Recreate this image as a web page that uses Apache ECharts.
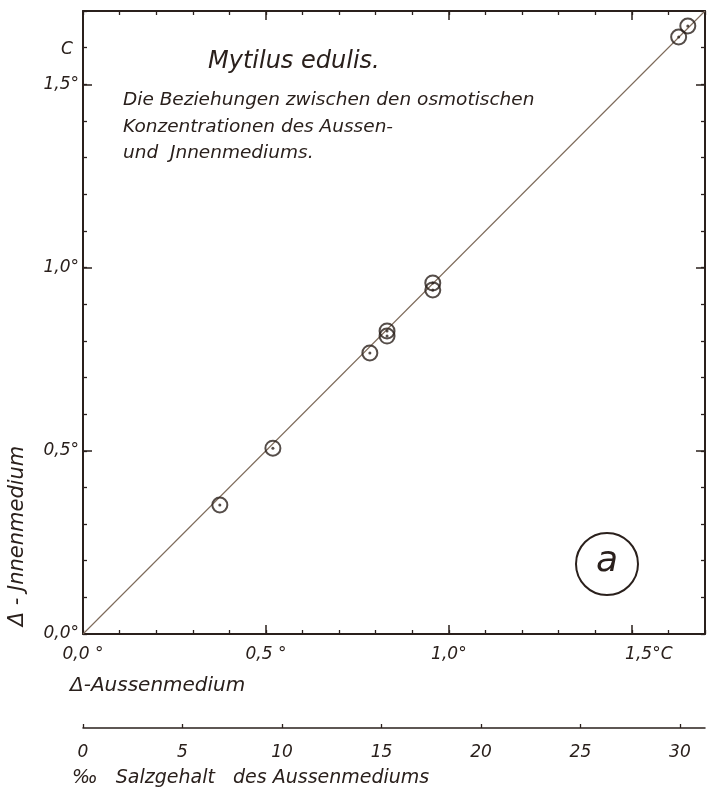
<!DOCTYPE html>
<html>
<head>
<meta charset="utf-8">
<script src="https://cdn.jsdelivr.net/npm/echarts@6/dist/echarts.min.js"></script>
<style>
  html, body { margin: 0; padding: 0; background: #ffffff; }
  #chart { width: 708px; height: 790px; }
</style>
</head>
<body>
<div id="chart"></div>
<script>
// ---- data ----
const aussenDelta = [0.374, 0.519, 0.784, 0.831, 0.831, 0.956, 0.956, 1.628, 1.653];
const innenDelta  = [0.352, 0.507, 0.767, 0.827, 0.813, 0.958, 0.939, 1.629, 1.659];
const lineX = [0, 1.7];
const lineY = [0, 1.7];

const majorTicks = [0, 0.5, 1.0, 1.5];
const xTickLabels = ['0,0 °', '0,5 °', '1,0°', '1,5°C'];
const yTickLabels = ['0,0°', '0,5°', '1,0°', '1,5°'];
const salinityTicks = [0, 5, 10, 15, 20, 25, 30];
const salinityLabels = ['0', '5', '10', '15', '20', '25', '30'];

const titleText = 'Mytilus edulis.';
const subtitleLines = ['Die Beziehungen zwischen den osmotischen', 'Konzentrationen des Aussen-', 'und  Jnnenmediums.'];
const xName = 'Δ-Aussenmedium';
const yName = 'Δ - Jnnenmedium';
const salName = '‰   Salzgehalt   des Aussenmediums';

// ---- styling ----
const INK = '#2a201c';
const FONT = '"DejaVu Sans"';
const AX_MAX = 1.7;
const SAL_MAX = 31.26;

function lookup(vals, labels) {
  return function (v) {
    const i = vals.findIndex(t => Math.abs(t - v) < 1e-6);
    return i >= 0 ? labels[i] : '';
  };
}

function majorAxis(pos, withLabels, fmt) {
  const a = {
    type: 'value', position: pos, min: 0, max: AX_MAX, interval: 0.5,
    axisLine: { show: true, onZero: false, lineStyle: { color: INK, width: 2 } },
    axisTick: { show: true, inside: true, length: 9, lineStyle: { color: INK, width: 1.5 } },
    splitLine: { show: false },
    axisLabel: { show: withLabels }
  };
  if (withLabels) {
    a.axisLabel = {
      show: true, formatter: fmt, color: INK, fontStyle: 'italic', fontFamily: FONT, fontSize: 17,
      margin: (pos === 'bottom') ? 12 : 4,
      rich: { p: { width: 34, fontSize: 17 } }
    };
  }
  return a;
}
function minorAxis(pos) {
  return {
    type: 'value', position: pos, min: 0, max: AX_MAX, interval: 0.1,
    axisLine: { show: false, onZero: false },
    axisTick: { show: true, inside: true, length: 4, lineStyle: { color: INK, width: 1.3 } },
    splitLine: { show: false },
    axisLabel: { show: false }
  };
}

const xFmt = function (v) {
  const i = majorTicks.findIndex(t => Math.abs(t - v) < 1e-6);
  if (i < 0) return '';
  return i === 3 ? '{p|}' + xTickLabels[i] : xTickLabels[i];
};

const chart = echarts.init(document.getElementById('chart'), null, { renderer: 'canvas' });

const option = {
  backgroundColor: '#ffffff',
  animation: false,
  grid: { left: 83, right: 3, top: 11, bottom: 156, containLabel: false, outerBoundsMode: 'none' },
  xAxis: [
    majorAxis('bottom', true, xFmt),
    minorAxis('bottom'),
    majorAxis('top', false),
    minorAxis('top'),
    {
      type: 'value', position: 'bottom', offset: 94, min: 0, max: SAL_MAX, interval: 5,
      axisLine: { show: true, onZero: false, lineStyle: { color: INK, width: 1.5 } },
      axisTick: { show: true, inside: true, length: 4, customValues: salinityTicks, lineStyle: { color: INK, width: 1.3 } },
      splitLine: { show: false },
      axisLabel: {
        show: true, customValues: salinityTicks, formatter: lookup(salinityTicks, salinityLabels),
        color: INK, fontStyle: 'italic', fontFamily: FONT, fontSize: 17, margin: 16
      }
    }
  ],
  yAxis: [
    majorAxis('left', true, lookup(majorTicks, yTickLabels)),
    minorAxis('left'),
    majorAxis('right', false),
    minorAxis('right')
  ],
  series: [
    {
      type: 'line', xAxisIndex: 0, yAxisIndex: 0,
      data: lineX.map((x, i) => [x, lineY[i]]),
      symbol: 'none', lineStyle: { color: '#7d6a5a', width: 1.1 }, z: 1, silent: true
    },
    {
      type: 'scatter', xAxisIndex: 0, yAxisIndex: 0,
      data: aussenDelta.map((x, i) => [x, innenDelta[i]]),
      symbol: 'circle', symbolSize: 15,
      itemStyle: { color: 'rgba(0,0,0,0)', borderColor: INK, borderWidth: 2 }, z: 3
    },
    {
      type: 'scatter', xAxisIndex: 0, yAxisIndex: 0,
      data: aussenDelta.map((x, i) => [x, innenDelta[i]]),
      symbol: 'circle', symbolSize: 3,
      itemStyle: { color: INK }, z: 4
    }
  ],
  graphic: [
    { type: 'text', x: 67, y: 50, style: { text: 'C', font: 'italic 17px ' + FONT, fill: INK, align: 'center', verticalAlign: 'middle' } },
    { type: 'text', x: 208, y: 62, style: { text: titleText, font: 'italic 24px ' + FONT, fill: INK, align: 'left', verticalAlign: 'middle' } },
    { type: 'text', x: 123, y: 100, style: { text: subtitleLines[0], font: 'italic 18.5px ' + FONT, fill: INK, align: 'left', verticalAlign: 'middle' } },
    { type: 'text', x: 123, y: 127, style: { text: subtitleLines[1], font: 'italic 18.5px ' + FONT, fill: INK, align: 'left', verticalAlign: 'middle' } },
    { type: 'text', x: 123, y: 153, style: { text: subtitleLines[2], font: 'italic 18.5px ' + FONT, fill: INK, align: 'left', verticalAlign: 'middle' } },
    { type: 'text', x: 70, y: 686, style: { text: xName, font: 'italic 20px ' + FONT, fill: INK, align: 'left', verticalAlign: 'middle' } },
    { type: 'text', x: 72, y: 778, style: { text: salName, font: 'italic 19px ' + FONT, fill: INK, align: 'left', verticalAlign: 'middle' } },
    { type: 'text', x: 18, y: 536, rotation: Math.PI / 2, style: { text: yName, font: 'italic 21px ' + FONT, fill: INK, align: 'center', verticalAlign: 'middle' } },
    { type: 'circle', shape: { cx: 607, cy: 564, r: 31 }, style: { fill: 'none', stroke: INK, lineWidth: 2 } },
    { type: 'text', x: 607, y: 562, style: { text: 'a', font: 'italic 36px ' + FONT, fill: INK, align: 'center', verticalAlign: 'middle' } }
  ]
};

chart.setOption(option);
</script>
</body>
</html>
